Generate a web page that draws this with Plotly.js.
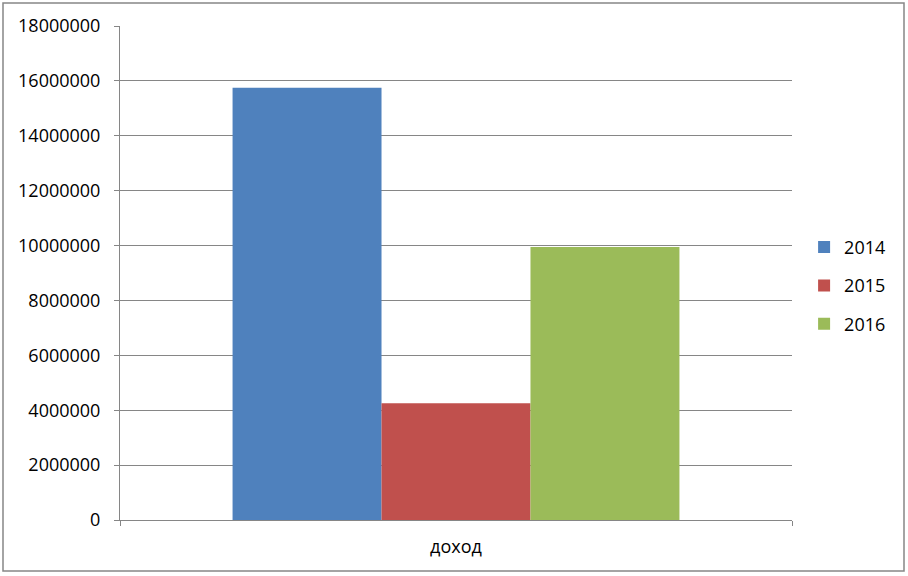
<!DOCTYPE html>
<html>
<head>
<meta charset="utf-8">
<script src="https://cdn.plot.ly/plotly-3.0.1.min.js"></script>
<style>
  body { margin: 0; background: #fff; }
  #chart { width: 908px; height: 576px; }
</style>
</head>
<body>
<div id="chart"></div>
<script>
var categories = ['доход'];
var years = ['2014', '2015', '2016'];
var v2014 = [15750000];
var v2015 = [4250000];
var v2016 = [9950000];
var yTicks = [0, 2000000, 4000000, 6000000, 8000000, 10000000, 12000000, 14000000, 16000000, 18000000];

var colors = ['#4F81BD', '#C0504D', '#9BBB59'];
var values = [v2014, v2015, v2016];

var data = years.map(function (yr, i) {
  return {
    x: categories,
    y: values[i],
    type: 'bar',
    name: yr,
    legendgroup: yr,
    marker: { color: colors[i], line: { width: 0 } },
    hoverinfo: 'y+name'
  };
});

var fontFam = '"Open Sans", "Liberation Sans", sans-serif';

var layout = {
  width: 908,
  height: 576,
  margin: { l: 120, r: 116, t: 26, b: 56 },
  paper_bgcolor: '#fff',
  plot_bgcolor: '#fff',
  font: { family: fontFam, size: 18, color: '#000' },
  barmode: 'group',
  bargap: 0.335,
  bargroupgap: 0,
  showlegend: true,
  legend: {
    x: 1.018, xanchor: 'left',
    y: 0.474, yanchor: 'middle',
    traceorder: 'grouped',
    tracegroupgap: 12,
    font: { family: fontFam, size: 18, color: '#000' }
  },
  xaxis: {
    type: 'category',
    showline: true,
    linecolor: '#868686',
    linewidth: 1,
    ticks: 'outside',
    tickson: 'boundaries',
    ticklen: 5,
    tickcolor: '#868686',
    ticklabelstandoff: 10,
    showgrid: false,
    tickfont: { family: fontFam, size: 18 }
  },
  yaxis: {
    range: [0, 18000000],
    tickvals: yTicks,
    ticktext: yTicks.map(String),
    showline: true,
    linecolor: '#868686',
    linewidth: 1,
    ticks: 'outside',
    ticklen: 5,
    tickcolor: '#868686',
    ticklabelstandoff: 10,
    showgrid: true,
    gridcolor: '#868686',
    gridwidth: 1,
    zeroline: false,
    tickfont: { family: fontFam, size: 18 }
  },
  shapes: [{
    type: 'rect',
    xref: 'paper', yref: 'paper',
    x0: (3 - 120) / 672, x1: (904 - 120) / 672,
    y0: (520 - 571) / 494, y1: (520 - 3) / 494,
    line: { color: '#868686', width: 1.5 },
    fillcolor: 'rgba(0,0,0,0)'
  }]
};

Plotly.newPlot('chart', data, layout, { displayModeBar: false, staticPlot: true });
</script>
</body>
</html>
